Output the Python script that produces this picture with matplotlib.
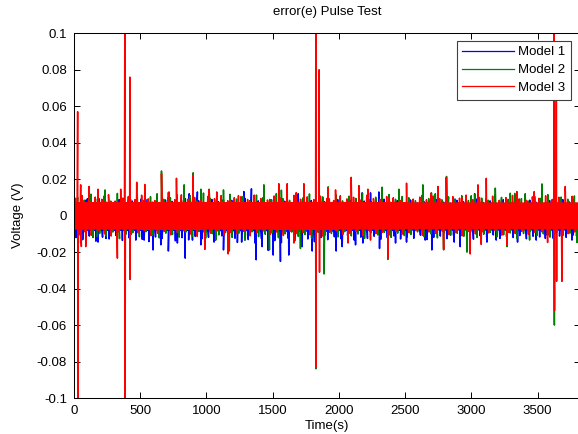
import numpy as np
import matplotlib
matplotlib.use("Agg")
import matplotlib.pyplot as plt

plt.rcParams['font.family'] = ['Liberation Sans', 'DejaVu Sans']

# ---------------- data (read / estimated from the picture) ----------------
t_end = 3820
# dense solid core of each trace (upper / lower edge), per 500 s segment
seg_edges = [0, 500, 1000, 1500, 2000, 2500, 3000, 3500]
m1_core_hi = [0.0052, 0.0052, 0.0054, 0.0052, 0.0054, 0.0050, 0.0050, 0.0050]
m1_core_lo = [-0.0080, -0.0080, -0.0082, -0.0084, -0.0080, -0.0078, -0.0078, -0.0078]
m2_core_hi = [0.0062, 0.0064, 0.0062, 0.0064, 0.0062, 0.0060, 0.0060, 0.0060]
m2_core_lo = [-0.0066, -0.0068, -0.0066, -0.0068, -0.0066, -0.0064, -0.0064, -0.0064]
m3_core_hi = [0.0070, 0.0072, 0.0070, 0.0072, 0.0071, 0.0069, 0.0069, 0.0069]
m3_core_lo = [-0.0073, -0.0075, -0.0073, -0.0075, -0.0073, -0.0071, -0.0071, -0.0071]

# ragged fringe of small excursions just outside the core, one every 50 s
fringe_step = 50
m3_fr_top = [0.0095, 0.0110, 0.0085, 0.0102, 0.0090, 0.0115, 0.0080, 0.0098, 0.0105, 0.0088,
             0.0112, 0.0092, 0.0083, 0.0108, 0.0096, 0.0087, 0.0114, 0.0091, 0.0100, 0.0085,
             0.0106, 0.0093, 0.0110, 0.0082, 0.0099, 0.0104, 0.0089, 0.0113, 0.0094, 0.0086,
             0.0108, 0.0097, 0.0084, 0.0111, 0.0090, 0.0103, 0.0088, 0.0107, 0.0095, 0.0083,
             0.0109, 0.0092, 0.0101, 0.0086, 0.0112, 0.0094, 0.0089, 0.0105, 0.0098, 0.0084,
             0.0110, 0.0091, 0.0102, 0.0087, 0.0108, 0.0093, 0.0085, 0.0104, 0.0096, 0.0113,
             0.0088, 0.0100, 0.0090, 0.0107, 0.0084, 0.0099, 0.0111, 0.0092, 0.0086, 0.0103,
             0.0095, 0.0109, 0.0089, 0.0101, 0.0094, 0.0106]
m3_fr_bot = [-0.0095, -0.0088, -0.0108, -0.0083, -0.0100, -0.0112, -0.0090, -0.0085, -0.0104, -0.0093,
             -0.0081, -0.0110, -0.0097, -0.0087, -0.0106, -0.0092, -0.0084, -0.0101, -0.0114, -0.0089,
             -0.0096, -0.0083, -0.0107, -0.0091, -0.0099, -0.0086, -0.0111, -0.0094, -0.0082, -0.0103,
             -0.0090, -0.0109, -0.0085, -0.0098, -0.0093, -0.0105, -0.0087, -0.0113, -0.0091, -0.0084,
             -0.0102, -0.0096, -0.0088, -0.0110, -0.0083, -0.0099, -0.0092, -0.0106, -0.0086, -0.0101,
             -0.0094, -0.0082, -0.0108, -0.0090, -0.0097, -0.0085, -0.0104, -0.0093, -0.0111, -0.0087,
             -0.0100, -0.0089, -0.0095, -0.0083, -0.0107, -0.0091, -0.0098, -0.0086, -0.0103, -0.0092,
             -0.0088, -0.0105, -0.0094, -0.0084, -0.0099, -0.0090]
m1_fr_top = [0.0070, 0.0085, 0.0065, 0.0092, 0.0075, 0.0068, 0.0088, 0.0072, 0.0080, 0.0066,
             0.0090, 0.0074, 0.0069, 0.0086, 0.0078, 0.0067, 0.0093, 0.0071, 0.0082, 0.0065,
             0.0089, 0.0076, 0.0070, 0.0084, 0.0068, 0.0095, 0.0073, 0.0081, 0.0066, 0.0087,
             0.0071, 0.0079, 0.0067, 0.0091, 0.0074, 0.0083, 0.0069, 0.0077, 0.0065, 0.0088,
             0.0072, 0.0085, 0.0068, 0.0080, 0.0075, 0.0066, 0.0090, 0.0073, 0.0082, 0.0067,
             0.0086, 0.0070, 0.0078, 0.0065, 0.0089, 0.0074, 0.0069, 0.0084, 0.0076, 0.0066,
             0.0091, 0.0072, 0.0081, 0.0068, 0.0087, 0.0071, 0.0079, 0.0065, 0.0085, 0.0073,
             0.0067, 0.0083, 0.0070, 0.0088, 0.0075, 0.0069]
m1_fr_bot = [-0.0120, -0.0132, -0.0112, -0.0140, -0.0118, -0.0128, -0.0108, -0.0136, -0.0122, -0.0115,
             -0.0130, -0.0142, -0.0117, -0.0125, -0.0110, -0.0138, -0.0121, -0.0133, -0.0114, -0.0127,
             -0.0119, -0.0135, -0.0111, -0.0129, -0.0124, -0.0145, -0.0131, -0.0150, -0.0126, -0.0141,
             -0.0137, -0.0148, -0.0123, -0.0139, -0.0146, -0.0128, -0.0143, -0.0120, -0.0132, -0.0116,
             -0.0127, -0.0109, -0.0134, -0.0118, -0.0125, -0.0113, -0.0130, -0.0121, -0.0111, -0.0128,
             -0.0116, -0.0124, -0.0107, -0.0131, -0.0119, -0.0112, -0.0126, -0.0108, -0.0122, -0.0114,
             -0.0129, -0.0110, -0.0118, -0.0106, -0.0125, -0.0115, -0.0120, -0.0109, -0.0127, -0.0113,
             -0.0117, -0.0105, -0.0123, -0.0112, -0.0119, -0.0108]
m2_fr_top = [0.0100, 0.0085, 0.0118, 0.0092, 0.0108, 0.0080, 0.0122, 0.0096, 0.0088, 0.0112,
             0.0083, 0.0104, 0.0120, 0.0090, 0.0098, 0.0115, 0.0086, 0.0109, 0.0081, 0.0124,
             0.0094, 0.0102, 0.0087, 0.0117, 0.0091, 0.0106, 0.0082, 0.0113, 0.0099, 0.0089,
             0.0121, 0.0093, 0.0084, 0.0110, 0.0097, 0.0119, 0.0086, 0.0103, 0.0092, 0.0114,
             0.0081, 0.0107, 0.0095, 0.0123, 0.0088, 0.0101, 0.0084, 0.0116, 0.0090, 0.0105,
             0.0098, 0.0082, 0.0111, 0.0094, 0.0120, 0.0087, 0.0103, 0.0091, 0.0109, 0.0083,
             0.0117, 0.0096, 0.0085, 0.0112, 0.0100, 0.0089, 0.0122, 0.0093, 0.0081, 0.0106,
             0.0097, 0.0115, 0.0086, 0.0102, 0.0090, 0.0108]
m2_fr_bot = [-0.0105, -0.0092, -0.0120, -0.0098, -0.0112, -0.0090, -0.0126, -0.0101, -0.0094, -0.0116,
             -0.0088, -0.0108, -0.0122, -0.0096, -0.0103, -0.0118, -0.0091, -0.0113, -0.0087, -0.0124,
             -0.0099, -0.0106, -0.0093, -0.0119, -0.0097, -0.0110, -0.0089, -0.0115, -0.0102, -0.0095,
             -0.0121, -0.0100, -0.0090, -0.0114, -0.0104, -0.0123, -0.0092, -0.0107, -0.0098, -0.0117,
             -0.0088, -0.0111, -0.0101, -0.0125, -0.0094, -0.0106, -0.0091, -0.0119, -0.0096, -0.0109,
             -0.0103, -0.0089, -0.0115, -0.0099, -0.0122, -0.0093, -0.0108, -0.0097, -0.0113, -0.0090,
             -0.0120, -0.0102, -0.0092, -0.0116, -0.0105, -0.0095, -0.0124, -0.0098, -0.0087, -0.0111,
             -0.0100, -0.0118, -0.0093, -0.0107, -0.0096, -0.0112]
# first fringe time (s) for top / bottom of each model (staggered)
m1_fr_start = (40, 15)
m2_fr_start = (27, 43)
m3_fr_start = (10, 30)

# Model 1 individual spikes (time s, voltage V)
m1_spk_t = [101, 504, 869, 931, 1282, 1339, 1692, 2175, 2238, 2301, 2865, 3024,
            50, 181, 241, 466, 529, 597, 655, 712, 780, 839, 894, 957, 1057, 1128, 1233,
            1290, 1375, 1420, 1465, 1503, 1558, 1621, 1722, 1798, 1979, 2024, 2125, 2180,
            2306, 2427, 2510, 2651, 2701, 2870, 2915, 3117, 3187, 3348, 3489, 3558, 3759]
m1_spk_v = [0.0093, 0.0090, 0.0120, 0.0130, 0.0132, 0.0147, 0.0120, 0.0125, 0.0125, 0.0130, 0.0093, 0.0120,
            -0.0150, -0.0145, -0.0125, -0.0134, -0.0134, -0.0188, -0.0160, -0.0194, -0.0150, -0.0233, -0.0134, -0.0160, -0.0145, -0.0188, -0.0147,
            -0.0134, -0.0242, -0.0170, -0.0190, -0.0216, -0.0251, -0.0216, -0.0170, -0.0194, -0.0194, -0.0170, -0.0160, -0.0150,
            -0.0180, -0.0150, -0.0145, -0.0134, -0.0188, -0.0145, -0.0170, -0.0145, -0.0134, -0.0145, -0.0134, -0.0125, -0.0134]

# Model 2 individual spikes
m2_spk_t = [234, 660, 717, 831, 899, 957, 1020, 1128, 1260, 1433, 1490, 1565, 1918, 2150, 2326, 2452,
            2633, 2698, 2812, 2998, 3180, 3293, 3406, 3532, 3771,
            176, 987, 1070, 1172, 1290, 1475, 1709, 1826, 1888, 2369, 2790, 2966, 3268, 3439, 3626, 3797]
m2_spk_v = [0.0141, 0.0245, 0.0130, 0.0169, 0.0235, 0.0145, 0.0145, 0.0141, 0.0088, 0.0169, 0.0087, 0.0140, 0.0158, 0.0165, 0.0156, 0.0145,
            0.0169, 0.0125, 0.0215, 0.0109, 0.0151, 0.0123, 0.0120, 0.0174, 0.0088,
            -0.0115, -0.0185, -0.0134, -0.0194, -0.0134, -0.0188, -0.0180, -0.0840, -0.0320, -0.0240, -0.0188, -0.0200, -0.0170, -0.0134, -0.0600, -0.0147]

# Model 3 individual spikes (pulses first)
m3_spk_t = [27, 29, 383, 385, 421, 423, 1825, 1827, 1850, 1853, 3625, 3627, 3641, 3643,
            50, 113, 181, 352, 473, 534, 660, 712, 773, 899, 1020, 1077, 1183, 1241,
            1546, 1609, 1677, 1735, 1918, 1974, 2092, 2150, 2218, 2377, 2510,
            2694, 2747, 2810, 2928, 3049, 3112, 3343, 3474, 3708,
            55, 88, 327, 987, 1163, 1659, 2069, 2238, 2369, 2790, 2991, 3074, 3268, 3575, 3683]
m3_spk_v = [0.057, -0.105, 0.105, -0.105, 0.076, -0.035, 0.105, -0.083, 0.080, -0.031, 0.105, -0.052, 0.095, -0.036,
            0.0169, 0.0160, 0.0145, 0.0145, 0.0183, 0.0171, 0.0230, 0.0127, 0.0205, 0.0222, 0.0140, 0.0130, 0.0080, 0.0110,
            0.0175, 0.0175, 0.0126, 0.0175, 0.0150, 0.0141, 0.0210, 0.0160, 0.0145, 0.0100, 0.0178,
            0.0123, 0.0160, 0.0210, 0.0096, 0.0169, 0.0205, 0.0132, 0.0132, 0.0160,
            -0.0169, -0.0170, -0.0233, -0.0180, -0.0210, -0.0150, -0.0150, -0.0134, -0.0233, -0.0184, -0.0210, -0.0158, -0.0158, -0.0147, -0.0360]

labels = ['Model 1', 'Model 2', 'Model 3']
colors = ['#0000ff', '#008000', '#ff0000']
xticks = [0, 500, 1000, 1500, 2000, 2500, 3000, 3500]
yticks = [-0.1, -0.08, -0.06, -0.04, -0.02, 0, 0.02, 0.04, 0.06, 0.08, 0.1]
ytick_labels = ['-0.1', '-0.08', '-0.06', '-0.04', '-0.02', '0', '0.02', '0.04', '0.06', '0.08', '0.1']


def build_series(core_hi, core_lo, fr_top, fr_bot, fr_start, spk_t, spk_v, step=4):
    t = np.arange(0, t_end + step, step, dtype=float)
    seg = np.searchsorted(seg_edges, t, side='right') - 1
    hi = np.asarray(core_hi)[seg]
    lo = np.asarray(core_lo)[seg]
    v = np.where(np.arange(t.size) % 2 == 0, hi, lo)
    ft = fr_start[0] + fringe_step * np.arange(len(fr_top)) + 0.5
    fb = fr_start[1] + fringe_step * np.arange(len(fr_bot)) + 0.5
    tt = np.concatenate([t, ft, fb, np.asarray(spk_t, float) + 0.5])
    vv = np.concatenate([v, fr_top, fr_bot, np.asarray(spk_v, float)])
    order = np.argsort(tt, kind='stable')
    return tt[order], vv[order]


W, H = 578, 434
fig = plt.figure(figsize=(W / 100, H / 100), dpi=100)
ax_l, ax_r, ax_t, ax_b = 74, 580, 33.3, 398
ax = fig.add_axes([ax_l / W, 1 - ax_b / H, (ax_r - ax_l) / W, (ax_b - ax_t) / H])

series = [
    build_series(m1_core_hi, m1_core_lo, m1_fr_top, m1_fr_bot, m1_fr_start, m1_spk_t, m1_spk_v),
    build_series(m2_core_hi, m2_core_lo, m2_fr_top, m2_fr_bot, m2_fr_start, m2_spk_t, m2_spk_v),
    build_series(m3_core_hi, m3_core_lo, m3_fr_top, m3_fr_bot, m3_fr_start, m3_spk_t, m3_spk_v),
]
for (tt, vv), lab, c in zip(series, labels, colors):
    ax.plot(tt, vv, color=c, lw=1.1, label=lab)

ax.set_xlim(0, t_end)
ax.set_ylim(-0.1, 0.1)
ax.set_xticks(xticks)
ax.set_xticklabels([str(x) for x in xticks])
ax.set_yticks(yticks)
ax.set_yticklabels(ytick_labels)
ax.tick_params(direction='in', length=4, width=0.7, labelsize=9.5, pad=5,
               top=True, right=True, colors='black')
for s in ax.spines.values():
    s.set_linewidth(0.75)
    s.set_color('black')

ax.set_title('error(e) Pulse Test', fontsize=9.5, pad=13)
ax.set_xlabel('Time(s)', fontsize=9.5, labelpad=2)
ax.set_ylabel('Voltage (V)', fontsize=9.5, labelpad=9)

leg = ax.legend(loc='upper right', bbox_to_anchor=(571 / W, 1 - 40.7 / H),
                bbox_transform=fig.transFigure, borderaxespad=0, fontsize=9.5,
                handlelength=3.9, handletextpad=0.35, labelspacing=0.42,
                borderpad=0.42, fancybox=False, framealpha=1, edgecolor='#404040')
leg.get_frame().set_linewidth(0.8)
for line in leg.get_lines():
    line.set_linewidth(0.9)

fig.savefig('out.png', dpi=100)
